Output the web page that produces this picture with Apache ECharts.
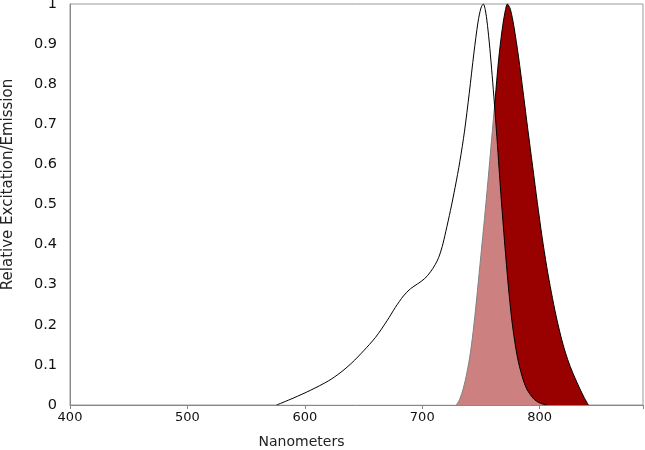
<!DOCTYPE html>
<html><head><meta charset="utf-8">
<script src="https://cdn.jsdelivr.net/npm/echarts@6/dist/echarts.min.js"></script>
<style>html,body{margin:0;padding:0;background:#fff}#c{width:645px;height:450px}</style>
</head><body><div id="c"></div>
<script>
var excitationX = [576,590,605,620,630,640,650,660,670,677,684,690,696,702,707,711,714,717,720,724,728,732,736,740,744,747.5,750,752,754,756,758,760,762,764,766,768,771,774,777,781,785,789,795,800,806];
var excitationY = [0,0.017,0.037,0.06,0.08,0.105,0.135,0.168,0.21,0.243,0.272,0.29,0.302,0.315,0.332,0.35,0.368,0.395,0.432,0.485,0.543,0.607,0.683,0.777,0.878,0.955,0.99,1.0,0.98,0.935,0.875,0.805,0.73,0.65,0.565,0.485,0.375,0.275,0.195,0.12,0.072,0.04,0.015,0.005,0];
var emissionX = [729,732,735,738,741,744,747,750,753,756,759,762,765,768,770.5,772.5,775,778,782,786,790,794,798,802,806,810,814,818,822,826,830,834,838,841.5];
var emissionY = [0,0.015,0.042,0.08,0.13,0.2,0.285,0.375,0.465,0.56,0.66,0.76,0.86,0.935,0.98,1.0,0.987,0.945,0.868,0.778,0.685,0.595,0.505,0.42,0.345,0.28,0.222,0.172,0.13,0.096,0.068,0.042,0.018,0];
var xTicks = [400,500,600,700,800];

function pairs(xs, ys){ return xs.map(function(x,i){ return [x, ys[i]]; }); }

var chart = echarts.init(document.getElementById('c'));
chart.setOption({
  animation:false,
  grid:{left:70,right:2,top:4,bottom:45,containLabel:false,outerBoundsMode:'none',show:true,borderColor:'#999',borderWidth:1,backgroundColor:'transparent'},
  xAxis:{type:'value',min:400,max:888,interval:100,
    name:'Nanometers',nameLocation:'middle',nameGap:30,
    nameTextStyle:{fontFamily:'DejaVu Sans',fontSize:14,color:'#222',padding:[0,110,0,0]},
    axisLine:{lineStyle:{color:'#888'}},
    axisTick:{show:true,length:4,lineStyle:{color:'#888'}},
    axisLabel:{fontFamily:'DejaVu Sans',fontSize:13,color:'#111',margin:6,
      formatter:function(v){ return xTicks.indexOf(v)>=0 ? String(v) : ''; }},
    splitLine:{show:false}},
  yAxis:{type:'value',min:0,max:1,interval:0.1,
    name:'Relative Excitation/Emission',nameLocation:'middle',nameGap:54,
    nameTextStyle:{fontFamily:'DejaVu Sans',fontSize:15,color:'#222',padding:[0,0,0,40]},
    axisLine:{show:true,lineStyle:{color:'#888'}},
    axisTick:{show:false},
    axisLabel:{fontFamily:'DejaVu Sans',fontSize:14.5,color:'#111',margin:13},
    splitLine:{show:false}},
  series:[
    {type:'line',data:pairs(emissionX,emissionY),smooth:0.3,symbol:'none',
      lineStyle:{color:'#000',width:1},areaStyle:{color:'#990000',opacity:1},z:2},
    {type:'line',data:pairs(excitationX,excitationY),smooth:0.3,symbol:'none',
      lineStyle:{color:'#000',width:1},areaStyle:{color:'#ffffff',opacity:0.5},z:3}
  ]
});
</script></body></html>
